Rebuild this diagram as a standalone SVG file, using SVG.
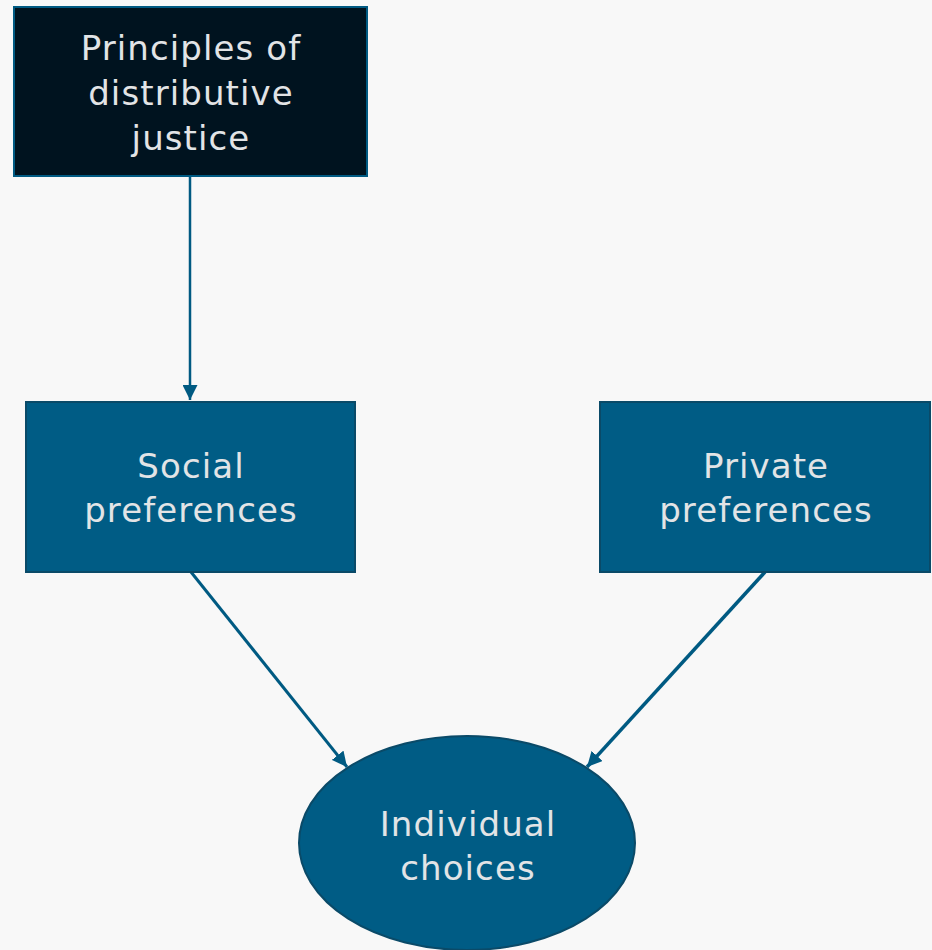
<svg xmlns="http://www.w3.org/2000/svg" width="932" height="950" viewBox="0 0 932 950">
  <defs>
    <marker id="arrow" viewBox="0 0 10 10" refX="10" refY="5" markerWidth="6" markerHeight="6" markerUnits="userSpaceOnUse" orient="auto">
      <path d="M0,0 L10,5 L0,10 z" fill="#005a82"/>
    </marker>
    <marker id="arrow-lg" viewBox="0 0 10 10" refX="10" refY="5" markerWidth="15" markerHeight="15" markerUnits="userSpaceOnUse" orient="auto">
      <path d="M0,0 L10,5 L0,10 z" fill="#005a82"/>
    </marker>
  </defs>
  <style>
    .box { fill: #005c85; stroke: #0a4a68; stroke-width: 2; }
    .dark { fill: #00131f; stroke: #005a82; stroke-width: 2; }
    .label { font-family: "DejaVu Sans", "Liberation Sans", sans-serif; font-size: 34px; letter-spacing: 1.1px; fill: #e2e4e6; text-anchor: middle; }
    .edge { stroke: #005a82; fill: none; marker-end: url(#arrow-lg); }
  </style>
  <rect width="932" height="950" fill="#f8f8f8"/>

  <g id="connectors">
    <line class="edge" style="stroke-width:2.5" x1="190" y1="177" x2="190" y2="400"/>
    <line class="edge" style="stroke-width:3" x1="191" y1="572" x2="347" y2="767"/>
    <line class="edge" style="stroke-width:3.5" x1="765" y1="572" x2="587" y2="767"/>
  </g>

  <g id="principles">
    <rect class="dark" x="14" y="7" width="353" height="169"/>
    <text class="label" x="191" y="60">Principles of</text>
    <text class="label" x="191" y="105">distributive</text>
    <text class="label" x="191" y="150">justice</text>
  </g>

  <g id="social">
    <rect class="box" x="26" y="402" width="329" height="170"/>
    <text class="label" x="191" y="478">Social</text>
    <text class="label" x="191" y="522">preferences</text>
  </g>

  <g id="private">
    <rect class="box" x="600" y="402" width="330" height="170"/>
    <text class="label" x="766" y="478">Private</text>
    <text class="label" x="766" y="522">preferences</text>
  </g>

  <g id="choices">
    <ellipse class="box" cx="467" cy="843" rx="168" ry="107"/>
    <text class="label" x="468" y="836">Individual</text>
    <text class="label" x="468" y="880">choices</text>
  </g>
</svg>
